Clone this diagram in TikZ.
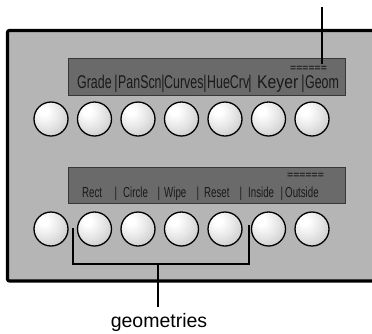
\documentclass[tikz,border=0pt]{standalone}
\usepackage{fontspec}
\setmainfont{Liberation Sans}
\newfontfamily\narrowfont[FakeStretch=0.67]{Liberation Sans}
\newfontfamily\keyfont[FakeStretch=0.85]{Liberation Sans}
\definecolor{panelgray}{RGB}{180,181,180}
\definecolor{dispgray}{RGB}{106,106,106}
\definecolor{dispedge}{RGB}{55,55,55}
\pgfdeclareradialshading{btnshade}{\pgfpoint{-12bp}{13bp}}{%
  color(0bp)=(white); color(6bp)=(white); color(20bp)=(black!9);
  color(35bp)=(black!20); color(50bp)=(black!30); color(68bp)=(black!40)}
\tikzset{
  btn/.style={circle, draw=black, line width=1.3pt, minimum size=34pt, inner sep=0pt, shading=btnshade},
  disp/.style={draw=dispedge, line width=0.8pt, fill=dispgray},
  bigtxt/.style={inner sep=0pt, anchor=base west, font=\narrowfont\fontsize{18.5}{18.5}\selectfont, text=black!90},
  smalltxt/.style={inner sep=0pt, anchor=base west, font=\narrowfont\fontsize{14.5}{14.5}\selectfont, text=black!90},
  bar/.style={inner sep=0pt, anchor=base},
  eqs/.style={inner sep=0pt, anchor=base west, font=\fontsize{10.5}{10.5}\selectfont, text=black},
  lead/.style={line width=2pt, black},
}
\begin{document}
\begin{tikzpicture}[x=1pt,y=-1pt]
\useasboundingbox (0,0) rectangle (372,333);
% panel
\draw[line width=3.2pt, fill=panelgray, rounded corners=2pt] (385,30.5) -- (7.5,30.5) -- (7.5,281) -- (385,281);
% displays
\draw[disp] (68,58) rectangle (345,95);
\draw[disp] (68,167) rectangle (345,203);
% top labels
\node[bigtxt] (tg) at (77,88) {Grade};
\node[bigtxt,bar] (tb1) at (116,88) {|};
\node[bigtxt] (tp) at (118,88) {PanScn};
\node[bigtxt,bar] (tb2) at (163,88) {|};
\node[bigtxt] (tc) at (164,88) {Curves};
\node[bigtxt,bar] (tb3) at (205,88) {|};
\node[bigtxt] (th) at (207,88) {HueCrv};
\node[bigtxt,bar] (tb4) at (250,88) {|};
\node[bigtxt, font=\keyfont\fontsize{18.5}{18.5}\selectfont] (tk) at (257,88) {Keyer};
\node[bigtxt,bar] (tb5) at (303,88) {|};
\node[bigtxt] (tgeo) at (305,88) {Geom};
\node[eqs] (teq) at (290,71) {======};
% bottom labels
\node[smalltxt] (br) at (82,197) {Rect};
\node[smalltxt,bar] (bb1) at (116,197) {|};
\node[smalltxt] (bc) at (123,197) {Circle};
\node[smalltxt,bar] (bb2) at (159,197) {|};
\node[smalltxt] (bw) at (164,197) {Wipe};
\node[smalltxt,bar] (bb3) at (198,197) {|};
\node[smalltxt] (bre) at (204,197) {Reset};
\node[smalltxt,bar] (bb4) at (241,197) {|};
\node[smalltxt] (bi) at (248,197) {Inside};
\node[smalltxt,bar] (bb5) at (282,197) {|};
\node[smalltxt] (bo) at (285,197) {Outside};
\node[eqs] (beq) at (287,178) {======};
% buttons
\foreach \i/\x in {1/51,2/94.5,3/138,4/181.5,5/225,6/268.5,7/312}{
  \node[btn] (t\i) at (\x,119) {};
  \node[btn] (b\i) at (\x,229) {};
}
% leader to top
\coordinate (ltop) at (322,7);
\coordinate (lbot) at (322,64);
\draw[lead] (ltop) -- (lbot);
% bracket
\coordinate (bl) at (73,228);
\coordinate (br2) at (249,225);
\coordinate (bm) at (158,264);
\coordinate (stemend) at (158,307);
\draw[lead] (bl) -- (bl |- bm) -- (br2 |- bm) -- (br2);
\draw[lead] (bm) -- (stemend);
\node[inner sep=0pt, anchor=base, font=\fontsize{19.5}{19.5}\selectfont] (geo) at (159,327.5) {geometries};
\end{tikzpicture}
\end{document}
